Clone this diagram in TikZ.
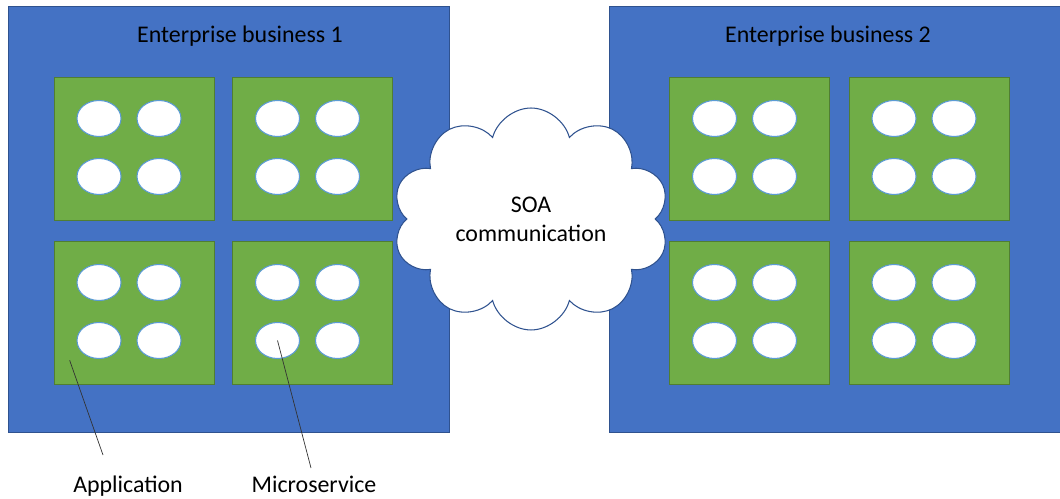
\documentclass[tikz,border=0pt]{standalone}
\usepackage{fontspec}
\setmainfont{Carlito}
\usetikzlibrary{shapes.geometric, shapes.symbols, calc}

\definecolor{entblue}{HTML}{4472C4}
\definecolor{entborder}{HTML}{2F528F}
\definecolor{appgreen}{HTML}{70AD47}
\definecolor{appborder}{HTML}{507E32}
\definecolor{microborder}{HTML}{5B9BD5}

\begin{document}
\begin{tikzpicture}[x=0.02cm, y=-0.02cm, font=\fontsize{13.6}{16.5}\selectfont,
	business/.style={rectangle, draw=entborder, fill=entblue, minimum width=8.82cm, minimum height=8.52cm, inner sep=0pt},
	app/.style={rectangle, draw=appborder, fill=appgreen, minimum width=3.2cm, minimum height=2.86cm, inner sep=0pt},
	micro/.style={ellipse, draw=microborder, line width=0.6pt, fill=white, minimum width=0.88cm, minimum height=0.72cm, inner sep=0pt},
	soa/.style={cloud, cloud puffs=10, cloud ignores aspect, draw=entborder, line width=0.6pt, fill=white, minimum width=5.54cm, minimum height=4.44cm, align=center},
	caption/.style={text height=1.6ex, text depth=0.4ex},
	leader/.style={draw=black!80, line width=0.4pt}]

	\useasboundingbox (0,0) rectangle (1060,499);

	\node [business] 							(ent1) 		at (228.5,219) 	{};
	\node [business, minimum width=9.08cm] 	(ent2) 		at (836,219) 	{};
	\node 										(ent1title) at (240,36) 	{Enterprise business 1};
	\node 										(ent2title) at (828,36) 	{Enterprise business 2};

	% applications, four microservices each
	\foreach \name/\cx/\cy in {app1/134/148.5, app2/312.5/148.5, app3/134/312.5, app4/312.5/312.5,
		app5/749.5/148.5, app6/929/148.5, app7/749.5/312.5, app8/929/312.5} {
		\node [app] (\name) at (\cx,\cy) {};
		\foreach \k/\dx/\dy in {1/-35/-30, 2/25/-30, 3/-35/28, 4/25/28}
			\node [micro] (\name-\k) at ($(\name)+(\dx,\dy)$) {};
	}

	\node [soa] 								(soa) 		at (531,219) 	{SOA\\communication};

	\node [caption] 							(applabel) 	at (128,487) 	{Application};
	\node [caption] 							(mslabel) 	at (314,487) 	{Microservice};

	\coordinate (apptip) 	at ($(app3.south west)+(16,-24)$);
	\coordinate (appfoot) 	at (103,455);
	\coordinate (msfoot) 	at (311,468);

	\path[leader] (apptip) -- (appfoot);
	\path[leader] (app4-3.center) -- (msfoot);
\end{tikzpicture}
\end{document}
